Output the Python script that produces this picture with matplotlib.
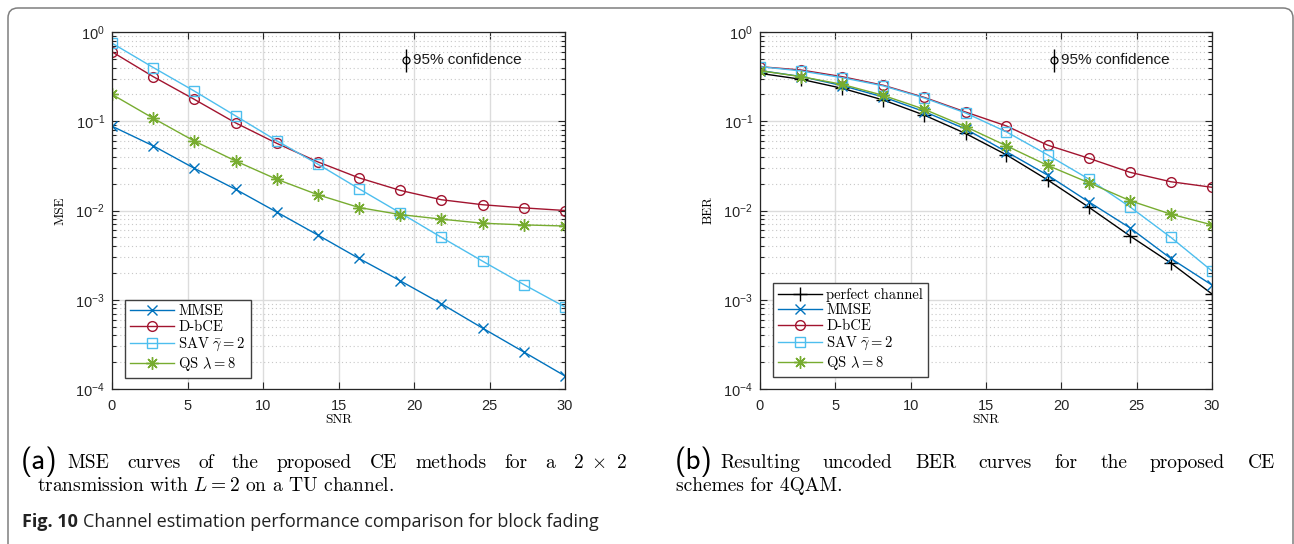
import numpy as np
import matplotlib
matplotlib.use('Agg')
import matplotlib.pyplot as plt
from matplotlib.ticker import LogLocator, NullFormatter, FixedLocator
from matplotlib.patches import FancyBboxPatch
from matplotlib.transforms import IdentityTransform

plt.rcParams['font.family'] = ['Liberation Sans', 'DejaVu Sans']
plt.rcParams['mathtext.fontset'] = 'custom'
plt.rcParams['mathtext.rm'] = 'Liberation Sans'
plt.rcParams['mathtext.it'] = 'Liberation Sans:italic'

snr = [0, 2.73, 5.45, 8.18, 10.91, 13.64, 16.36, 19.09, 21.82, 24.55, 27.27, 30]

# (a) MSE
mse_mmse = [0.088, 0.053, 0.0297, 0.0173, 0.0096, 0.0053, 0.0029, 0.00163, 0.00090, 0.00048, 0.00026, 0.00014]
mse_dbce = [0.60, 0.316, 0.176, 0.096, 0.0566, 0.035, 0.0232, 0.0168, 0.0132, 0.0116, 0.0107, 0.0100]
mse_sav = [0.75, 0.40, 0.218, 0.115, 0.0605, 0.0330, 0.0175, 0.0094, 0.0050, 0.0027, 0.00148, 0.00083]
mse_qs = [0.20, 0.108, 0.060, 0.0359, 0.0224, 0.0150, 0.0108, 0.0090, 0.0080, 0.0072, 0.0069, 0.0067]

# (b) BER
ber_perfect = [0.344, 0.295, 0.234, 0.173, 0.117, 0.073, 0.042, 0.022, 0.0109, 0.0052, 0.00258, 0.00116]
ber_mmse = [0.370, 0.317, 0.251, 0.187, 0.128, 0.082, 0.0455, 0.0249, 0.0125, 0.0064, 0.0029, 0.00146]
ber_dbce = [0.409, 0.375, 0.316, 0.253, 0.185, 0.127, 0.0885, 0.054, 0.0385, 0.0268, 0.021, 0.0182]
ber_sav = [0.409, 0.366, 0.308, 0.249, 0.182, 0.124, 0.076, 0.042, 0.0225, 0.0110, 0.0050, 0.0021]
ber_qs = [0.368, 0.316, 0.259, 0.195, 0.136, 0.087, 0.053, 0.032, 0.0205, 0.0129, 0.0091, 0.0069]

c_mmse = '#0072BD'
c_dbce = '#A2142F'
c_sav = '#4DBEEE'
c_qs = '#77AC30'

W, H = 1294, 544
fig = plt.figure(figsize=(W / 100, H / 100), dpi=100)

# outer frame
frame = FancyBboxPatch((8, -40), 1285, 576, boxstyle='round,pad=0,rounding_size=10',
                       transform=IdentityTransform(), facecolor='none',
                       edgecolor='#7f7f7f', linewidth=1.1)
fig.add_artist(frame)

ax1 = fig.add_axes([112 / W, 155 / H, 453 / W, 357 / H])
ax2 = fig.add_axes([760 / W, 155 / H, 452 / W, 357 / H])

asterisk = (8, 2, 0)


def style_axes(ax, ylabel):
    ax.set_yscale('log')
    ax.set_xlim(0, 30)
    ax.set_ylim(1e-4, 1)
    ax.xaxis.set_major_locator(FixedLocator([0, 5, 10, 15, 20, 25, 30]))
    ax.yaxis.set_major_locator(LogLocator(base=10, numticks=10))
    ax.yaxis.set_minor_locator(LogLocator(base=10, subs=np.arange(2, 10), numticks=10))
    ax.yaxis.set_minor_formatter(NullFormatter())
    ax.grid(True, which='major', color='#dcdcdc', linewidth=1.0, linestyle='-')
    ax.grid(True, which='minor', axis='y', color='#c8c8c8', linewidth=0.8, linestyle=(0, (1, 2.5)))
    ax.set_axisbelow(True)
    ax.tick_params(which='both', direction='in', top=True, right=True, labelsize=10.5,
                   color='#262626', labelcolor='#262626')
    ax.tick_params(which='major', length=5, width=0.8)
    ax.tick_params(which='minor', length=3, width=0.8)
    ax.tick_params(axis='x', pad=7)
    ax.tick_params(axis='y', pad=5)
    for s in ax.spines.values():
        s.set_color('#262626')
        s.set_linewidth(0.9)
    ax.set_xlabel('SNR', family='cmr10', fontsize=9.5, labelpad=1)
    ax.set_ylabel(ylabel, family='cmr10', fontsize=9.5, labelpad=6)
    # confidence marker
    ax.errorbar([19.5], [0.48], yerr=[[0.12], [0.16]], fmt='o', color='black',
                markerfacecolor='none', markersize=5, elinewidth=1.0, capsize=0, markeredgewidth=0.9)
    ax.text(19.95, 0.48, '95% confidence', fontsize=11, va='center', ha='left', color='#1a1a1a')


def add_legend(ax, anchor):
    leg = ax.legend(loc='lower left', bbox_to_anchor=anchor, borderaxespad=0,
                    prop={'family': 'cmr10', 'size': 10.5}, fancybox=False, framealpha=1,
                    handlelength=3.0, labelspacing=0.12, handletextpad=0.3, borderpad=0.35)
    for t in leg.get_texts():
        t.set_math_fontfamily('cm')
    leg.get_frame().set_edgecolor('#404040')
    leg.get_frame().set_linewidth(1.0)
    return leg


lw = 1.0
ax1.plot(snr, mse_mmse, color=c_mmse, marker='x', markersize=7, lw=lw, label='MMSE')
ax1.plot(snr, mse_dbce, color=c_dbce, marker='o', markersize=7, mfc='none', lw=lw, label='D-bCE')
ax1.plot(snr, mse_sav, color=c_sav, marker='s', markersize=6.5, mfc='none', lw=lw, label=r'SAV $\bar{\gamma}=2$')
ax1.plot(snr, mse_qs, color=c_qs, marker=asterisk, markersize=9, lw=lw, label=r'QS $\lambda=8$')
style_axes(ax1, 'MSE')
add_legend(ax1, (0.029, 0.031))

ax2.plot(snr, ber_perfect, color='black', marker='+', markersize=10, lw=lw, label='perfect channel')
ax2.plot(snr, ber_mmse, color=c_mmse, marker='x', markersize=7, lw=lw, label='MMSE')
ax2.plot(snr, ber_dbce, color=c_dbce, marker='o', markersize=7, mfc='none', lw=lw, label='D-bCE')
ax2.plot(snr, ber_sav, color=c_sav, marker='s', markersize=6.5, mfc='none', lw=lw, label=r'SAV $\bar{\gamma}=2$')
ax2.plot(snr, ber_qs, color=c_qs, marker=asterisk, markersize=9, lw=lw, label=r'QS $\lambda=8$')
style_axes(ax2, 'BER')
add_legend(ax2, (0.029, 0.034))

# captions
renderer = fig.canvas.get_renderer()


def justify(words, x0, x1, y, **kw):
    ts = [fig.text(0, 1 - y / H, w, va='baseline', **kw) for w in words]
    ws = [t.get_window_extent(renderer).width for t in ts]
    gap = (x1 - x0 - sum(ws)) / (len(ws) - 1)
    x = x0
    for t, w in zip(ts, ws):
        t.set_x(x / W)
        x += w + gap


cap = dict(family='cmr10', fontsize=14, math_fontfamily='cm')
fig.text(21 / W, 1 - 469 / H, '(a)', family='cmss10', fontsize=21, va='baseline')
justify(['MSE', 'curves', 'of', 'the', 'proposed', 'CE', 'methods', 'for', 'a', r'$2\ \times\ 2$'],
        67, 627, 468, **cap)
fig.text(37 / W, 1 - 491 / H, r'transmission with $L=2$ on a TU channel.', va='baseline', **cap)

fig.text(675 / W, 1 - 469 / H, '(b)', family='cmss10', fontsize=21, va='baseline')
justify(['Resulting', 'uncoded', 'BER', 'curves', 'for', 'the', 'proposed', 'CE'],
        720, 1275, 468, **cap)
fig.text(676 / W, 1 - 491 / H, 'schemes for 4QAM.', va='baseline', **cap)

t_fig = fig.text(22 / W, 1 - 527 / H, 'Fig. 10', family='Open Sans', fontweight='bold', fontsize=13,
                 va='baseline', color='#222222')
fw = t_fig.get_window_extent(renderer).width
fig.text((22 + fw + 5) / W, 1 - 527 / H, 'Channel estimation performance comparison for block fading',
         family='Open Sans', fontsize=13, va='baseline', color='#222222')

fig.savefig('out.png', dpi=100, facecolor='white')
